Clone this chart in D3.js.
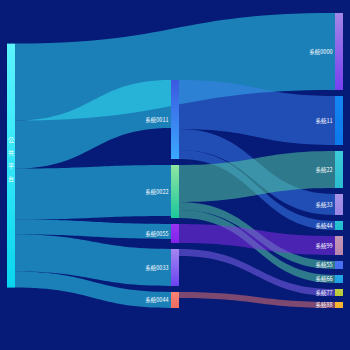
<!DOCTYPE html>
<html>
<head>
<meta charset="utf-8">
<script src="https://cdn.jsdelivr.net/npm/d3@7"></script>
<style>
  html, body { margin: 0; padding: 0; background: #061a78; }
  svg { display: block; }
</style>
</head>
<body>
<svg id="chart" width="350" height="350"></svg>
<script>
// Nodes (in column order) and their gradient colours [top, bottom]
const nodeNames = [
  '公共平台',
  '系統0011', '系統0022', '系統0055', '系統0033', '系統0044',
  '系統0000', '系統11', '系統22', '系統33', '系統44', '系統99', '系統55', '系統66', '系統77', '系統88'
];
const nodeColors = [
  ['#5cf4ff', '#08d6ee'],
  ['#3b5ae0', '#3aa8ff'], ['#8ee6a2', '#1cc79c'], ['#9a34f2', '#8222ea'], ['#a488f0', '#6c42f0'], ['#f88476', '#ee6a5e'],
  ['#a286e6', '#7840f0'], ['#1486f2', '#0c78ea'], ['#3ccbd8', '#2cbcd0'], ['#a692e6', '#9a86e4'], ['#28c4d4', '#20bccc'],
  ['#c496b6', '#b888ae'], ['#4a72f0', '#456cee'], ['#22a8e8', '#1e9ee4'], ['#c2d040', '#b8c83a'], ['#f8bc34', '#f4b030']
];

// Flows between systems
const linkSources = ['公共平台', '公共平台', '公共平台', '公共平台', '公共平台', '公共平台',
  '系統0011', '系統0011', '系統0011', '系統0022', '系統0022', '系統0022', '系統0055', '系統0033', '系統0044'];
const linkTargets = ['系統0000', '系統0011', '系統0022', '系統0055', '系統0033', '系統0044',
  '系統11', '系統33', '系統44', '系統22', '系統55', '系統66', '系統99', '系統77', '系統88'];
const linkValues = [77, 48, 51, 15, 37, 16, 49, 21, 9, 37, 8, 8, 19, 7, 6];

// ---- layout settings ----
const W = 350, H = 350;
const extent = { x0: 7, y0: 13, x1: 343, y1: 308 };
const nodeWidth = 8, nodePadding = 6;
const columnAlign = [0.6, 1, 0];   // vertical alignment of each column inside the extent
const linkOpacity = 0.5;

const nodes = nodeNames.map((name, i) => ({
  name, index: i, colors: nodeColors[i], sourceLinks: [], targetLinks: []
}));
const byName = new Map(nodes.map(n => [n.name, n]));
const links = linkValues.map((v, i) => {
  const l = { source: byName.get(linkSources[i]), target: byName.get(linkTargets[i]), value: v, index: i };
  l.source.sourceLinks.push(l);
  l.target.targetLinks.push(l);
  return l;
});

nodes.forEach(n => {
  n.value = Math.max(d3.sum(n.sourceLinks, l => l.value), d3.sum(n.targetLinks, l => l.value));
});

// depth = longest path from a root; sinks are justified to the last column
function depthOf(n) {
  if (n.depth !== undefined) return n.depth;
  n.depth = n.targetLinks.length ? d3.max(n.targetLinks, l => depthOf(l.source)) + 1 : 0;
  return n.depth;
}
nodes.forEach(depthOf);
const maxDepth = d3.max(nodes, n => n.depth);
nodes.forEach(n => { if (!n.sourceLinks.length) n.depth = maxDepth; });

const columns = d3.range(maxDepth + 1).map(d => nodes.filter(n => n.depth === d));

const x = d3.scaleLinear().domain([0, maxDepth]).range([extent.x0, extent.x1 - nodeWidth]);
const extentH = extent.y1 - extent.y0;
const ky = d3.min(columns, c => (extentH - (c.length - 1) * nodePadding) / d3.sum(c, n => n.value));
const y = d3.scaleLinear().domain([0, 1]).range([0, ky]);

columns.forEach((col, ci) => {
  const colH = d3.sum(col, n => y(n.value)) + (col.length - 1) * nodePadding;
  let cursor = extent.y0 + (extentH - colH) * columnAlign[ci];
  col.forEach(n => {
    n.x0 = x(n.depth); n.x1 = n.x0 + nodeWidth;
    n.y0 = cursor; n.y1 = cursor + y(n.value);
    cursor = n.y1 + nodePadding;
  });
});

// stack links on each node, ordered by the position of the other end
nodes.forEach(n => {
  n.sourceLinks.sort((a, b) => a.target.y0 - b.target.y0);
  n.targetLinks.sort((a, b) => a.source.y0 - b.source.y0);
  let sy = n.y0;
  n.sourceLinks.forEach(l => { l.sy0 = sy; sy += y(l.value); l.sy1 = sy; });
  let ty = n.y0;
  n.targetLinks.forEach(l => { l.ty0 = ty; ty += y(l.value); l.ty1 = ty; });
});

function bandPath(l) {
  const x0 = l.source.x1, x1 = l.target.x0, cx = (x0 + x1) / 2;
  const p = d3.path();
  p.moveTo(x0, l.sy0);
  p.bezierCurveTo(cx, l.sy0, cx, l.ty0, x1, l.ty0);
  p.lineTo(x1, l.ty1);
  p.bezierCurveTo(cx, l.ty1, cx, l.sy1, x0, l.sy1);
  p.closePath();
  return p.toString();
}

// ---- drawing ----
const svg = d3.select('#chart');
svg.append('rect').attr('width', W).attr('height', H).attr('fill', '#061a78');

const defs = svg.append('defs');
nodes.forEach(n => {
  const g = defs.append('linearGradient').attr('id', 'ng' + n.index)
    .attr('x1', 0).attr('y1', 0).attr('x2', 0).attr('y2', 1);
  g.append('stop').attr('offset', '0%').attr('stop-color', n.colors[0]);
  g.append('stop').attr('offset', '100%').attr('stop-color', n.colors[1]);
});

svg.append('g').selectAll('path').data(links).join('path')
  .attr('d', bandPath)
  .attr('fill', d => d3.interpolateRgb(d.source.colors[0], d.source.colors[1])(0.5))
  .attr('fill-opacity', linkOpacity);

svg.append('g').selectAll('rect').data(nodes).join('rect')
  .attr('x', d => d.x0).attr('y', d => d.y0)
  .attr('width', d => d.x1 - d.x0).attr('height', d => d.y1 - d.y0)
  .attr('fill', d => `url(#ng${d.index})`);

const font = '"Noto Sans CJK TC", "Noto Sans CJK SC", sans-serif';

// labels to the left of the nodes
svg.append('g').selectAll('text').data(nodes.filter(n => n.depth > 0)).join('text')
  .attr('x', d => d.x0 - 2.5)
  .attr('y', d => (d.y0 + d.y1) / 2)
  .attr('text-anchor', 'end')
  .attr('dominant-baseline', 'central')
  .attr('font-family', font)
  .attr('font-size', 5.5)
  .attr('fill', '#ffffff')
  .text(d => d.name);

// root label written vertically inside its node
const root = columns[0][0];
const chars = Array.from(root.name);
const lineStep = 13;
const rootLabel = svg.append('text')
  .attr('font-family', font).attr('font-size', 6).attr('fill', '#ffffff')
  .attr('text-anchor', 'middle').attr('dominant-baseline', 'central');
chars.forEach((c, i) => {
  rootLabel.append('tspan')
    .attr('x', (root.x0 + root.x1) / 2)
    .attr('y', (root.y0 + root.y1) / 2 - 7 + (i - (chars.length - 1) / 2) * lineStep)
    .text(c);
});
</script>
</body>
</html>
